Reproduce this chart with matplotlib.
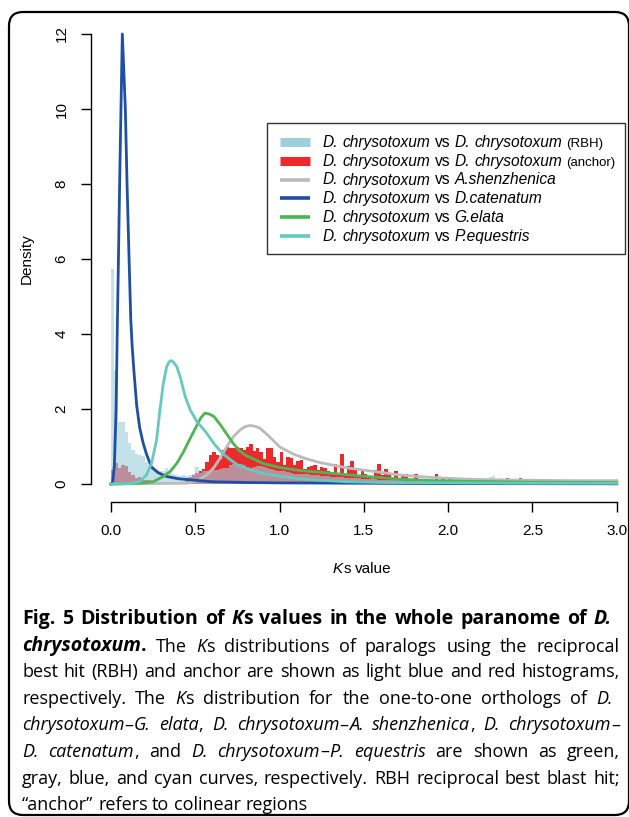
import numpy as np
import matplotlib
matplotlib.use('Agg')
import matplotlib.pyplot as plt
from matplotlib.patches import FancyBboxPatch, Rectangle
from matplotlib.lines import Line2D
from matplotlib.transforms import IdentityTransform

W, H = 629, 817

# --- histogram data (density per 0.02 Ks bin, Ks 0 - 3) -------------------
BIN_W = 0.02
anchor_density = [
    0.37, 0.56, 0.43, 0.51, 0.48, 0.33, 0.24, 0.15, 0.20, 0.12,
    0.10, 0.10, 0.08, 0.05, 0.05, 0.06, 0.05, 0.04, 0.05, 0.04,
    0.03, 0.05, 0.15, 0.20, 0.25, 0.30, 0.35, 0.39, 0.60, 0.77,
    0.86, 0.77, 0.66, 0.92, 0.99, 0.97, 0.95, 0.99, 0.95, 0.91,
    0.99, 1.07, 0.89, 0.95, 0.86, 0.68, 0.95, 0.95, 0.71, 0.60,
    0.86, 0.51, 0.71, 0.70, 0.51, 0.62, 0.64, 0.39, 0.45, 0.48,
    0.51, 0.37, 0.45, 0.42, 0.36, 0.28, 0.53, 0.28, 0.80, 0.23,
    0.48, 0.62, 0.37, 0.18, 0.35, 0.27, 0.15, 0.15, 0.37, 0.53,
    0.23, 0.41, 0.27, 0.15, 0.35, 0.12, 0.26, 0.26, 0.11, 0.11,
    0.28, 0.11, 0.13, 0.13, 0.11, 0.06, 0.26, 0.09, 0.17, 0.11,
    0.15, 0.06, 0.06, 0.04, 0.15, 0.13, 0.04, 0.03, 0.05, 0.13,
    0.11, 0.04, 0.03, 0.12, 0.12, 0.04, 0.03, 0.15, 0.04, 0.03,
    0.03, 0.15, 0.03, 0.03, 0.03, 0.03, 0.06, 0.03, 0.03, 0.03,
    0.03, 0.03, 0.06, 0.03, 0.03, 0.03, 0.07, 0.03, 0.03, 0.03,
    0.03, 0.03, 0.03, 0.03, 0.03, 0.07, 0.03, 0.03, 0.03, 0.12,
]
rbh_density = [
    5.73, 3.04, 1.66, 1.66, 1.40, 1.10, 0.90, 0.80, 0.78, 0.76,
    0.60, 0.50, 0.45, 0.40, 0.36, 0.34, 0.42, 0.30, 0.26, 0.24,
    0.22, 0.24, 0.22, 0.25, 0.28, 0.46, 0.30, 0.36, 0.36, 0.37,
    0.38, 0.38, 0.41, 0.42, 0.44, 0.50, 0.53, 0.52, 0.53, 0.50,
    0.45, 0.44, 0.46, 0.48, 0.47, 0.46, 0.42, 0.40, 0.38, 0.36,
    0.36, 0.35, 0.32, 0.30, 0.28, 0.28, 0.27, 0.26, 0.26, 0.25,
    0.24, 0.24, 0.22, 0.22, 0.21, 0.20, 0.20, 0.19, 0.19, 0.17,
    0.16, 0.16, 0.15, 0.15, 0.14, 0.14, 0.13, 0.18, 0.13, 0.12,
    0.12, 0.11, 0.11, 0.11, 0.10, 0.10, 0.10, 0.09, 0.09, 0.09,
    0.09, 0.08, 0.08, 0.08, 0.08, 0.07, 0.07, 0.07, 0.07, 0.07,
    0.07, 0.06, 0.06, 0.06, 0.06, 0.06, 0.06, 0.06, 0.06, 0.15,
    0.14, 0.06, 0.19, 0.22, 0.06, 0.05, 0.05, 0.05, 0.05, 0.05,
    0.05, 0.12, 0.05, 0.11, 0.13, 0.05, 0.11, 0.05, 0.05, 0.05,
    0.04, 0.04, 0.04, 0.04, 0.04, 0.04, 0.04, 0.04, 0.04, 0.04,
    0.04, 0.04, 0.04, 0.04, 0.04, 0.04, 0.04, 0.04, 0.04, 0.04,
]

# --- ortholog density curves ----------------------------------------------
catenatum_ks = [0.0, 0.01, 0.02, 0.03, 0.038, 0.044, 0.051, 0.059, 0.067,
                0.085, 0.095, 0.107, 0.117, 0.125, 0.136, 0.152, 0.17, 0.19,
                0.21, 0.24, 0.28, 0.33, 0.40, 0.50, 0.60, 0.80, 1.0, 1.5, 2.0,
                2.5, 3.0]
catenatum_d = [0.0, 0.05, 0.5, 2.0, 4.4, 6.0, 8.0, 10.0, 12.0,
               10.0, 8.0, 6.0, 4.4, 3.7, 3.0, 2.1, 1.5, 1.1,
               0.8, 0.45, 0.3, 0.2, 0.14, 0.1, 0.06, 0.04, 0.03, 0.02, 0.01,
               0.008, 0.005]

equestris_ks = [0.0, 0.11, 0.17, 0.21, 0.24, 0.27, 0.29, 0.31, 0.33, 0.345,
                0.356, 0.37, 0.39, 0.41, 0.44, 0.47, 0.51, 0.56, 0.61, 0.66,
                0.71, 0.75, 0.80, 0.90, 1.0, 1.1, 1.2, 1.4, 1.6, 2.0, 2.5, 3.0]
equestris_d = [0.0, 0.01, 0.06, 0.24, 0.55, 1.17, 1.97, 2.68, 3.13, 3.26,
               3.29, 3.25, 3.13, 2.86, 2.33, 1.97, 1.66, 1.40, 1.08, 0.82,
               0.64, 0.51, 0.42, 0.28, 0.21, 0.15, 0.11, 0.06, 0.04, 0.03,
               0.02, 0.02]

elata_ks = [0.0, 0.17, 0.25, 0.31, 0.35, 0.39, 0.43, 0.47, 0.51, 0.535, 0.557,
            0.58, 0.61, 0.65, 0.69, 0.725, 0.76, 0.80, 0.90, 1.0, 1.12, 1.32,
            1.52, 1.71, 1.91, 2.11, 2.5, 3.0]
elata_d = [0.0, 0.02, 0.06, 0.20, 0.33, 0.55, 0.86, 1.22, 1.57, 1.78, 1.89,
           1.87, 1.80, 1.57, 1.31, 1.08, 0.89, 0.76, 0.55, 0.44, 0.36, 0.28,
           0.20, 0.13, 0.09, 0.07, 0.05, 0.04]

shenzhenica_ks = [0.0, 0.45, 0.508, 0.567, 0.607, 0.646, 0.686, 0.725, 0.765,
                  0.795, 0.824, 0.853, 0.883, 0.94, 1.0, 1.08, 1.16, 1.24,
                  1.32, 1.40, 1.50, 1.60, 1.71, 1.91, 2.11, 2.30, 2.70, 3.0]
shenzhenica_d = [0.0, 0.02, 0.08, 0.24, 0.42, 0.68, 0.99, 1.26, 1.44,
                 1.53, 1.56, 1.54, 1.49, 1.26, 0.99, 0.80, 0.67, 0.57,
                 0.50, 0.43, 0.37, 0.31, 0.24, 0.17, 0.13, 0.11, 0.09, 0.09]

x_ticks = [0.0, 0.5, 1.0, 1.5, 2.0, 2.5, 3.0]
y_ticks = [0, 2, 4, 6, 8, 10, 12]

RED = '#EC2A2C'
LIGHTBLUE = '#9ECFDD'
GRAY = '#BBBBBB'
BLUE = '#1F4FA3'
GREEN = '#4DB552'
CYAN = '#66C9C1'

R_FONT = 'Liberation Sans'
CAP_FONT = 'Open Sans'

fig = plt.figure(figsize=(W / 100, H / 100), dpi=100)
renderer = fig.canvas.get_renderer()


def fx(px):
    return px / W


def fy(py):
    return 1 - py / H


def text_kw(style, size, family, bold_size=None):
    bold = 'b' in style
    sz = size * (0.85 if 's' in style else 1.0)
    if bold and bold_size:
        sz = bold_size
    return dict(fontsize=sz, family=family,
                fontstyle='italic' if 'i' in style else 'normal',
                fontweight='bold' if bold else 'normal')


def ink_width(txt, kw):
    t = fig.text(0, 0, txt, **kw)
    w = t.get_window_extent(renderer).width
    t.remove()
    return w


def put_line(ax, x, y, pieces, size, family, right=None, bold_size=None):
    """Chain styled pieces on one baseline; stretch word gaps when `right` is set."""
    words = [[]]
    for txt, style in pieces:
        parts = txt.split(' ')
        for j, part in enumerate(parts):
            if j > 0:
                words.append([])
            if part:
                words[-1].append((part, style))
    words = [w for w in words if w]
    kw0 = text_kw('', size, family)
    gap = ink_width('a a', kw0) - ink_width('aa', kw0)
    if right is not None and len(words) > 1:
        total = sum(ink_width(p, text_kw(s, size, family, bold_size))
                    for w in words for p, s in w)
        gap = (right - x - total) / (len(words) - 1)
    prev = None
    for w in words:
        for si, (p, s) in enumerate(w):
            kw = text_kw(s, size, family, bold_size)
            if prev is None:
                t = fig.text(fx(x), fy(y), p, ha='left', va='baseline', **kw)
            else:
                off = gap if si == 0 else 0
                t = ax.annotate(p, xy=(1, 0), xycoords=prev,
                                xytext=(off, 0), textcoords='offset pixels',
                                ha='left', va='bottom',
                                annotation_clip=False, **kw)
            prev = t


# outer rounded frame
frame = FancyBboxPatch((9, 2), 620, 803, boxstyle='round,pad=0,rounding_size=14',
                       transform=IdentityTransform(), fill=False,
                       edgecolor='black', linewidth=1.6)
fig.patches.append(frame)

ax = fig.add_axes([fx(90.8), fy(502), (637 - 90.8) / W, (502 - 16) / H])
ax.set_xlim(-0.12, 3.12)
ax.set_ylim(-0.48, 12.48)

left_edges = np.arange(len(anchor_density)) * BIN_W
ax.bar(left_edges, anchor_density, width=BIN_W, align='edge', color=RED,
       linewidth=0, zorder=1)
ax.bar(left_edges, rbh_density, width=BIN_W, align='edge', color=LIGHTBLUE,
       alpha=0.62, linewidth=0, zorder=2)

ax.plot(shenzhenica_ks, shenzhenica_d, color=GRAY, lw=2.0, zorder=3)
ax.plot(catenatum_ks, catenatum_d, color=BLUE, lw=2.0, zorder=3)
ax.plot(elata_ks, elata_d, color=GREEN, lw=2.0, zorder=3)
ax.plot(equestris_ks, equestris_d, color=CYAN, lw=2.0, zorder=3)

for s in ['top', 'right']:
    ax.spines[s].set_visible(False)
ax.spines['left'].set_bounds(0, 12)
ax.spines['bottom'].set_bounds(0, 3)
for s in ['left', 'bottom']:
    ax.spines[s].set_linewidth(1.0)
ax.set_xticks(x_ticks)
ax.set_xticklabels([f'{t:.1f}' for t in x_ticks])
ax.set_yticks(y_ticks)
ax.set_yticklabels([str(t) for t in y_ticks])
ax.tick_params(length=7, width=1.0, direction='out', labelsize=11, pad=9)
for lbl in ax.get_xticklabels() + ax.get_yticklabels():
    lbl.set_family(R_FONT)
for lbl in ax.get_yticklabels():
    lbl.set_rotation(90)
    lbl.set_va('center')
ax.patch.set_alpha(0)

fig.text(fx(27), fy(259), 'Density', rotation=90, ha='center', va='center',
         fontsize=11, family=R_FONT)
put_line(ax, 333, 573, [('K', 'i'), ('s value', '')], 11, R_FONT)

# legend, drawn by hand to mix italic and upright text
fig.patches.append(Rectangle((fx(267), fy(254)), fx(625) - fx(267),
                             fy(123) - fy(254), transform=fig.transFigure,
                             fill=False, edgecolor='#333333', linewidth=1.0))
legend_rows = [
    (LIGHTBLUE, 5, [('D. chrysotoxum', 'i'), (' vs ', ''), ('D. chrysotoxum', 'i'), (' (RBH)', 's')]),
    (RED, 5, [('D. chrysotoxum', 'i'), (' vs ', ''), ('D. chrysotoxum', 'i'), (' (anchor)', 's')]),
    (GRAY, 2, [('D. chrysotoxum', 'i'), (' vs ', ''), ('A.shenzhenica', 'i')]),
    (BLUE, 2, [('D. chrysotoxum', 'i'), (' vs ', ''), ('D.catenatum', 'i')]),
    (GREEN, 2, [('D. chrysotoxum', 'i'), (' vs ', ''), ('G.elata', 'i')]),
    (CYAN, 2, [('D. chrysotoxum', 'i'), (' vs ', ''), ('P.equestris', 'i')]),
]
for i, (col, lw, pieces) in enumerate(legend_rows):
    yc = 141.7 + i * 18.9
    fig.lines.append(Line2D([fx(280), fx(310)], [fy(yc), fy(yc)],
                            transform=fig.transFigure, color=col, lw=lw * 1.3,
                            solid_capstyle='butt'))
    put_line(ax, 323, yc + 5, pieces, 11.2, R_FONT)

# caption (justified, like the journal layout; last line left ragged)
caption = [
    [('Fig. 5 Distribution of ', 'b'), ('K', 'bi'), ('s values in the whole paranome of ', 'b'), ('D.', 'bi')],
    [('chrysotoxum', 'bi'), ('.', 'b'), (' The ', ''), ('K', 'i'), ('s distributions of paralogs using the reciprocal', '')],
    [('best hit (RBH) and anchor are shown as light blue and red histograms,', '')],
    [('respectively. The ', ''), ('K', 'i'), ('s distribution for the one-to-one orthologs of ', ''), ('D.', 'i')],
    [('chrysotoxum', 'i'), ('\u2013', ''), ('G. elata', 'i'), (', ', ''), ('D. chrysotoxum', 'i'), ('\u2013', ''),
     ('A. shenzhenica', 'i'), (', ', ''), ('D. chrysotoxum', 'i'), ('\u2013', '')],
    [('D. catenatum', 'i'), (', and ', ''), ('D. chrysotoxum', 'i'), ('\u2013', ''), ('P. equestris', 'i'),
     (' are shown as green,', '')],
    [('gray, blue, and cyan curves, respectively. RBH reciprocal best blast hit;', '')],
    [('\u201canchor\u201d refers to colinear regions', '')],
]
caption_right = [612, 620, 620, 613, 620, 620, 620, None]
for i, pieces in enumerate(caption):
    put_line(ax, 22, 624 + i * 26.6, pieces, 13, CAP_FONT,
             right=caption_right[i], bold_size=14)

fig.savefig('out.png', dpi=100)
